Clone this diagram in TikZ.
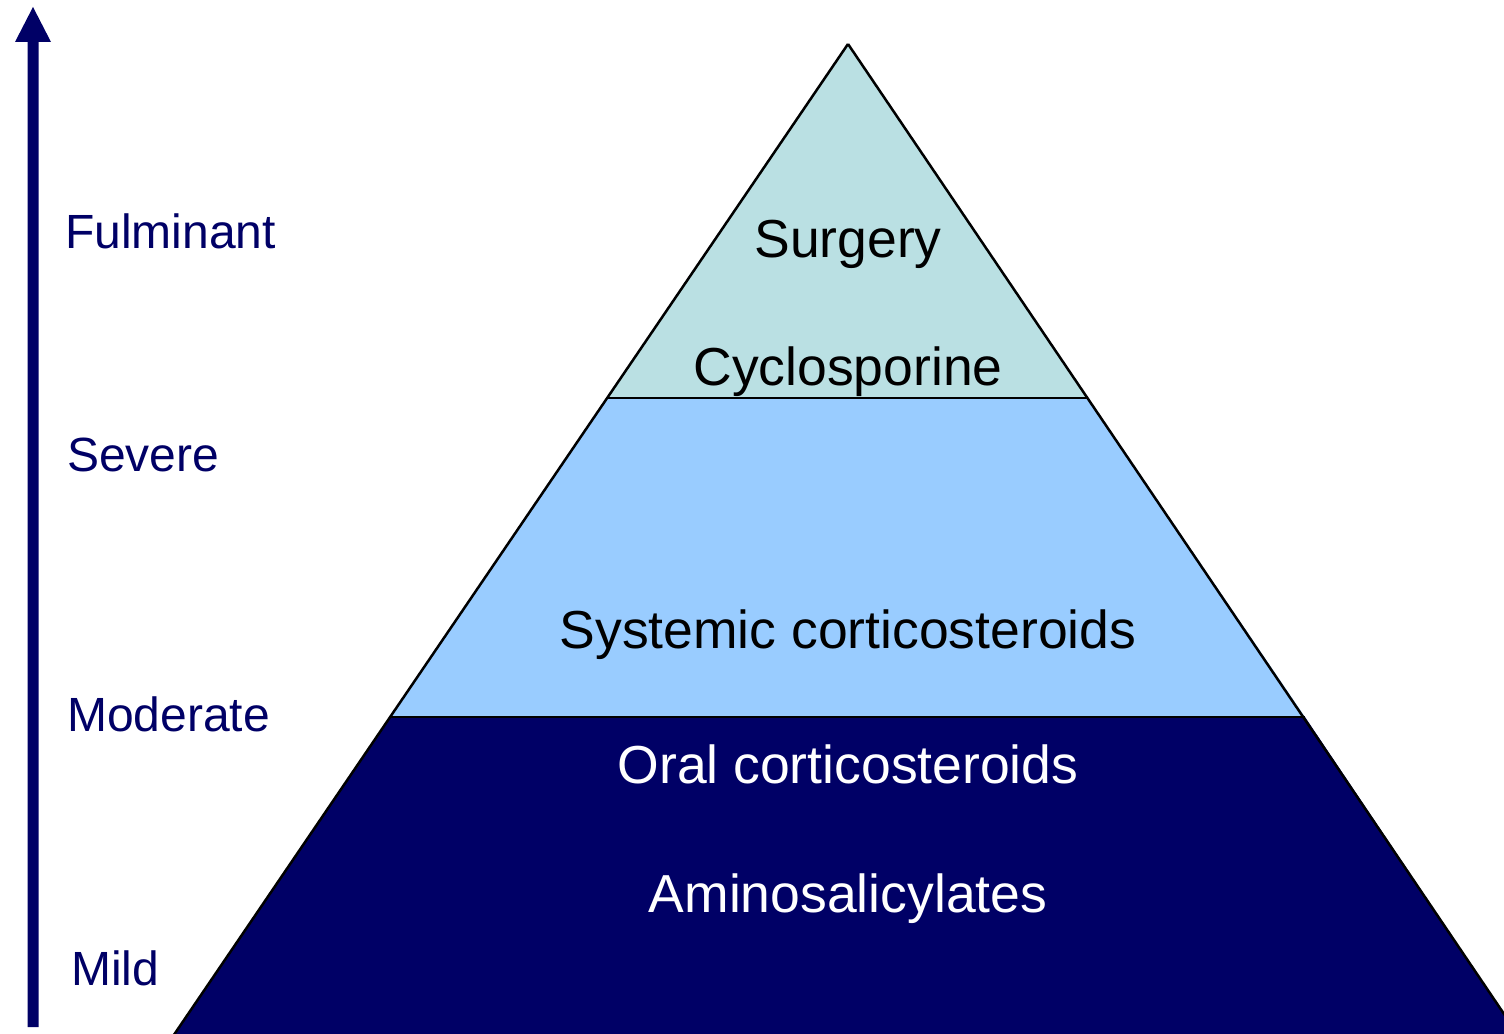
\documentclass[tikz,border=0pt]{standalone}
\usepackage{fontspec}
\setmainfont{Liberation Sans}
\definecolor{navy}{RGB}{0,0,102}
\definecolor{topband}{RGB}{186,224,227}
\definecolor{midband}{RGB}{153,204,255}
\begin{document}
\begin{tikzpicture}[x=1pt,y=-1pt,
  band/.style={draw=black,line width=2.5pt,line join=miter},
  pyrtext/.style={anchor=base,inner sep=0pt,font=\fontsize{53.5}{60}\selectfont},
  sevtext/.style={anchor=base west,inner sep=0pt,text=navy,font=\fontsize{48}{56}\selectfont}]
\useasboundingbox (0,0) rectangle (1504,1033);
\begin{scope}
\clip (0,0) rectangle (1504,1033);
% bands
\fill[navy] (390,717) -- (1305,717) -- (1525,1045) -- (167,1045) -- cycle;
\fill[midband] (608,398) -- (1088,398) -- (1305,717) -- (390,717) -- cycle;
\fill[topband] (848,44) -- (1088,398) -- (608,398) -- cycle;
\draw[band] (848,44) -- (1525,1045);
\draw[band] (848,44) -- (167,1045);
\draw[band] (608,398) -- (1088,398);
\draw[band] (390,717) -- (1305,717);
\end{scope}
% severity arrow
\coordinate (abot) at (33,1027);
\coordinate (atop) at (33,7);
\fill[navy] (27.5,1027) -- (27.5,42) -- (15,42) -- (atop) -- (51,42) -- (38.5,42) -- (38.5,1027) -- cycle;
% labels
\node[pyrtext] (surg) at (848,257) {Surgery};
\node[pyrtext] (cyclo) at (848,385) {Cyclosporine};
\node[pyrtext] (sys) at (848,648) {Systemic corticosteroids};
\node[pyrtext,text=white] (oral) at (848,783) {Oral corticosteroids};
\node[pyrtext,text=white] (amino) at (848,912) {Aminosalicylates};
\node[sevtext] (ful) at (65,248) {Fulminant};
\node[sevtext] (sev) at (67,471) {Severe};
\node[sevtext] (mod) at (67,731) {Moderate};
\node[sevtext] (mild) at (71,985) {Mild};
\end{tikzpicture}
\end{document}
